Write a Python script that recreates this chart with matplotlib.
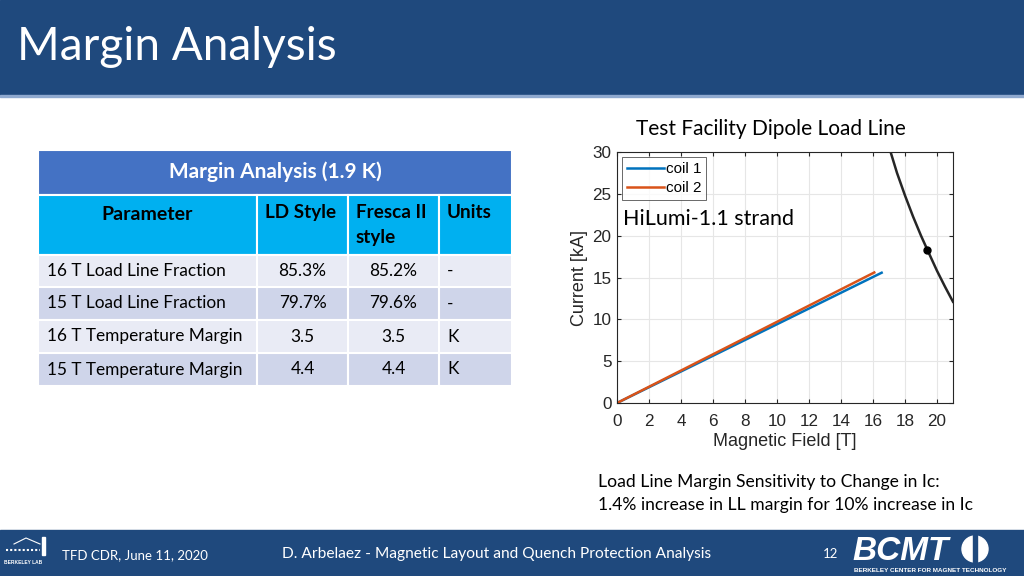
import numpy as np
import matplotlib
matplotlib.use('Agg')
import matplotlib.pyplot as plt
from matplotlib.patches import Rectangle, Circle

# load line data
coil1_B = [0.0, 16.54]
coil1_I = [0.0, 15.57]
coil2_B = [0.0, 16.08]
coil2_I = [0.0, 15.6]
# critical current curve (short sample)
crit_B = [17.1, 17.5, 18.0, 18.5, 19.0, 19.4, 20.0, 20.5, 21.0]
crit_I = [30.0, 27.5, 24.8, 22.3, 20.0, 18.3, 15.8, 13.9, 12.1]
op_B = [19.4]
op_I = [18.3]

# table contents
tbl_title = 'Margin Analysis (1.9 K)'
tbl_header = ['Parameter', 'LD Style', 'Fresca II\nstyle', 'Units']
tbl_params = ['16 T Load Line Fraction', '15 T Load Line Fraction',
              '16 T Temperature Margin', '15 T Temperature Margin']
tbl_ld = ['85.3%', '79.7%', '3.5', '4.4']
tbl_fresca = ['85.2%', '79.6%', '3.5', '4.4']
tbl_units = ['-', '-', 'K', 'K']

navy = '#1F497D'
font = 'Lato'

fig = plt.figure(figsize=(10.24, 5.76), dpi=100)
bg = fig.add_axes([0, 0, 1, 1])
bg.set_xlim(0, 1024)
bg.set_ylim(576, 0)
bg.axis('off')

# header band
bg.add_patch(Rectangle((0, 0), 1024, 95, color=navy, zorder=0))
bg.add_patch(Rectangle((0, 95), 1024, 2, color='#8FA9CF', zorder=0))
bg.text(17, 47, 'Margin Analysis', color='white', fontsize=33, family=font,
        va='center', ha='left')

# footer band
bg.add_patch(Rectangle((0, 530), 1024, 46, color=navy, zorder=0))
bg.text(62, 555, 'TFD CDR, June 11, 2020', color='white', fontsize=9.5,
        family=font, va='center')
bg.text(497, 554, 'D. Arbelaez - Magnetic Layout and Quench Protection Analysis',
        color='white', fontsize=11.2, family=font, va='center', ha='center')
bg.text(831, 554, '12', color='white', fontsize=9.5, family=font,
        va='center', ha='center')
bg.text(852, 552, 'BCMT', color='white', fontsize=24, family='Liberation Sans',
        fontweight='bold', style='italic', va='center')
bg.text(854, 571, 'BERKELEY CENTER FOR MAGNET TECHNOLOGY', color='white',
        fontsize=4.6, family='Liberation Sans', fontweight='bold', va='center')
bg.add_patch(Circle((975, 549), 13, color='white', zorder=2))
bg.add_patch(Rectangle((973, 535), 4, 27, color=navy, zorder=3))
bg.text(4, 563, 'BERKELEY LAB', color='white', fontsize=3.5,
        family='Liberation Sans', fontweight='bold', va='center')
bg.plot([6, 40], [550, 550], color='white', lw=1.5, ls=(0, (1, 1)))
bg.plot([14, 26, 40], [544, 538, 544], color='white', lw=0.8)
bg.add_patch(Rectangle((42, 537), 3, 18, color='white'))

# table
cols = [38, 257, 348, 439, 512]
rows = [150, 195, 255, 287, 320, 353, 386]
bg.add_patch(Rectangle((cols[0], rows[0]), cols[-1] - cols[0], rows[1] - rows[0],
                       facecolor='#4472C4', edgecolor='white', lw=1.5))
bg.text((cols[0] + cols[-1]) / 2, (rows[0] + rows[1]) / 2 - 1, tbl_title,
        color='white', fontsize=15, fontweight='bold', family=font,
        ha='center', va='center')
for j in range(4):
    bg.add_patch(Rectangle((cols[j], rows[1]), cols[j + 1] - cols[j], rows[2] - rows[1],
                           facecolor='#00B0F0', edgecolor='white', lw=1.5))
    if j == 0:
        bg.text((cols[0] + cols[1]) / 2, rows[1] + 19, tbl_header[j], fontsize=14,
                fontweight='bold', family=font, ha='center', va='center')
    else:
        bg.text(cols[j] + 8, rows[1] + 9, tbl_header[j], fontsize=13.6,
                fontweight='bold', family=font, ha='left', va='top',
                linespacing=1.55)
row_colors = ['#E9EBF5', '#CFD5EA']
for i in range(4):
    y0, y1 = rows[i + 2], rows[i + 3]
    yc = (y0 + y1) / 2
    for j in range(4):
        bg.add_patch(Rectangle((cols[j], y0), cols[j + 1] - cols[j], y1 - y0,
                               facecolor=row_colors[i % 2], edgecolor='white', lw=1.5))
    bg.text(cols[0] + 9, yc, tbl_params[i], fontsize=12.4, family=font, va='center')
    bg.text((cols[1] + cols[2]) / 2, yc, tbl_ld[i], fontsize=12.4, family=font,
            va='center', ha='center')
    bg.text((cols[2] + cols[3]) / 2, yc, tbl_fresca[i], fontsize=12.4, family=font,
            va='center', ha='center')
    bg.text(cols[3] + 8, yc, tbl_units[i], fontsize=12.4, family=font, va='center')

# side notes
bg.text(771, 129, 'Test Facility Dipole Load Line', fontsize=15, family=font,
        ha='center', va='center')
bg.text(598, 482, 'Load Line Margin Sensitivity to Change in Ic:', fontsize=12.6,
        family=font, va='center')
bg.text(598, 505, '1.4% increase in LL margin for 10% increase in Ic', fontsize=12.6,
        family=font, va='center')

# load line plot
ax = fig.add_axes([617 / 1024, 173 / 576, 336 / 1024, 251 / 576])
ax.plot(coil1_B, coil1_I, color='#0072BD', lw=1.8, label='coil 1')
ax.plot(coil2_B, coil2_I, color='#D95319', lw=1.8, label='coil 2')
ax.plot(crit_B, crit_I, color='#262626', lw=1.8)
ax.plot(op_B, op_I, 'o', color='black', ms=5)
ax.set_xlim(0, 21)
ax.set_ylim(0, 30)
ax.set_xticks(np.arange(0, 21, 2))
ax.set_yticks(np.arange(0, 31, 5))
ax.grid(True, color='#E6E6E6', lw=0.8)
ax.tick_params(direction='in', top=True, right=True, labelsize=12.3,
               colors='#262626', length=3, pad=4)
ax.tick_params(axis='x', pad=8)
for s in ax.spines.values():
    s.set_color('#262626')
    s.set_linewidth(0.8)
lab_font = 'Liberation Sans'
for t in ax.get_xticklabels() + ax.get_yticklabels():
    t.set_family(lab_font)
ax.set_xlabel('Magnetic Field [T]', fontsize=13, family=lab_font,
              color='#262626', labelpad=3)
ax.set_ylabel('Current [kA]', fontsize=13, family=lab_font,
              color='#262626', labelpad=3)
leg = ax.legend(loc='upper left', prop={'family': lab_font, 'size': 11},
                fancybox=False, edgecolor='#262626', handlelength=2.4,
                borderpad=0.3, labelspacing=0.35, handletextpad=0.15,
                borderaxespad=0.35)
leg.get_frame().set_linewidth(0.6)
ax.text(0.4, 22, 'HiLumi-1.1 strand', fontsize=15.5, family=font, va='center')

fig.savefig('out.png', dpi=100)
